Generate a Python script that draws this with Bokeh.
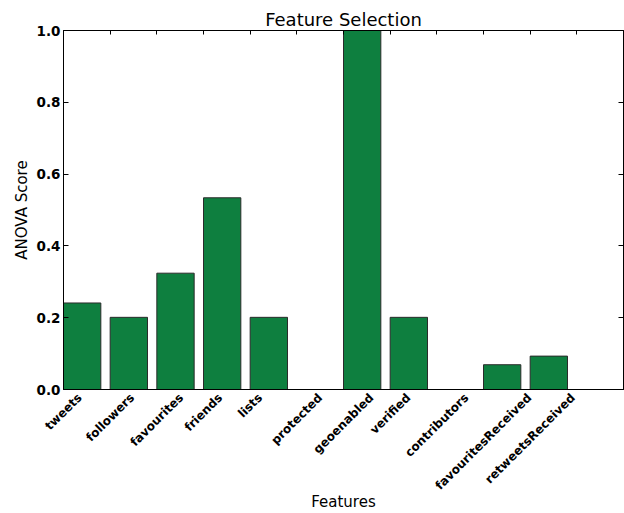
import math
from bokeh.plotting import figure
from bokeh.models import Range1d, FixedTicker, LinearAxis, ColumnDataSource, NumeralTickFormatter
from bokeh.embed import file_html
from bokeh.resources import INLINE

features = ["tweets", "followers", "favourites", "friends", "lists", "protected",
            "geoenabled", "verified", "contributors", "favouritesReceived", "retweetsReceived"]
scores = [0.241, 0.201, 0.324, 0.534, 0.201, 0.0, 1.0, 0.201, 0.0, 0.069, 0.093]
y_ticks = [0.0, 0.2, 0.4, 0.6, 0.8, 1.0]

# ---- layout constants ----
W, H = 624, 513
LEFT, RIGHT, TOP, BOTTOM = 63, 1, 30, 123
BAR_W = 0.8
FONT = "DejaVu Sans"
XLABEL_PX = 12

idx = list(range(len(features)))
x_end = len(features) + 1
src = ColumnDataSource(dict(left=idx, right=[i + BAR_W for i in idx], top=scores,
                            bottom=[0.0] * len(idx)))

# Approximate advance widths (em) of DejaVu Sans Bold, used to place the rotated
# labels centred on their tick like the reference (Bokeh right-aligns rotated labels).
BOLD_EM = {"a": .675, "b": .716, "c": .593, "d": .716, "e": .678, "f": .435, "g": .716,
           "i": .343, "l": .343, "n": .712, "o": .687, "p": .716, "r": .493, "s": .595,
           "t": .478, "u": .712, "v": .652, "w": .924, "R": .770}
px_per_unit = (W - LEFT - RIGHT) / x_end

def label_anchor(i, name):
    width = sum(BOLD_EM.get(ch, .65) for ch in name) * XLABEL_PX
    return i + math.cos(math.pi / 4) * width / 2 / px_per_unit

label_pos = [label_anchor(i, f) for i, f in zip(idx, features)]

p = figure(width=W, height=H, output_backend="svg", toolbar_location=None,
           x_range=Range1d(0, x_end), y_range=Range1d(0, 1),
           title="Feature Selection", min_border_left=LEFT, min_border_right=RIGHT,
           min_border_top=TOP, min_border_bottom=BOTTOM)

p.quad(left="left", right="right", top="top", bottom="bottom", source=src,
       fill_color="#0E7F3F", line_color="#2b2b2b", line_width=1)

p.xgrid.visible = False
p.ygrid.visible = False
p.outline_line_color = "black"
p.outline_line_width = 1
p.background_fill_color = "white"
p.border_fill_color = "white"

p.title.align = "center"
p.title.text_font = FONT
p.title.text_font_size = "18px"
p.title.text_font_style = "normal"
p.title.text_color = "black"
p.title.standoff = 1

xa = p.xaxis[0]
xa.ticker = FixedTicker(ticks=label_pos)
xa.major_label_overrides = {c: f for c, f in zip(label_pos, features)}
xa.major_label_orientation = math.pi / 4
xa.major_label_text_font = FONT
xa.major_label_text_font_style = "bold"
xa.major_label_text_font_size = f"{XLABEL_PX}px"
xa.major_label_text_color = "black"
xa.major_tick_in = 0
xa.major_tick_out = 0
xa.minor_tick_in = 0
xa.minor_tick_out = 0
xa.major_label_standoff = 6
xa.axis_line_color = "black"
xa.axis_label = "Features"
xa.axis_label_text_font = FONT
xa.axis_label_text_font_style = "normal"
xa.axis_label_text_font_size = "15px"
xa.axis_label_text_color = "black"
xa.axis_label_standoff = -8

ya = p.yaxis[0]
ya.ticker = FixedTicker(ticks=y_ticks)
ya.formatter = NumeralTickFormatter(format="0.0")
ya.major_label_text_font = FONT
ya.major_label_text_font_style = "bold"
ya.major_label_text_font_size = "13.5px"
ya.major_label_text_color = "black"
ya.major_tick_in = 5
ya.major_tick_out = 0
ya.minor_tick_in = 0
ya.minor_tick_out = 0
ya.major_label_standoff = 3
ya.axis_label = "ANOVA Score"
ya.axis_label_text_font = FONT
ya.axis_label_text_font_style = "normal"
ya.axis_label_text_font_size = "15px"
ya.axis_label_text_color = "black"
ya.axis_label_standoff = 3
ya.axis_line_color = "black"

top_ticks = list(range(1, x_end))
top_axis = LinearAxis(ticker=FixedTicker(ticks=top_ticks),
                      major_label_overrides={t: "" for t in top_ticks},
                      major_tick_in=4, major_tick_out=0,
                      minor_tick_in=0, minor_tick_out=0, major_label_standoff=0,
                      axis_line_color="black")
p.add_layout(top_axis, "above")

right_axis = LinearAxis(ticker=FixedTicker(ticks=y_ticks),
                        major_label_overrides={t: "" for t in y_ticks},
                        major_tick_in=5, major_tick_out=0,
                        minor_tick_in=0, minor_tick_out=0, major_label_standoff=0,
                        axis_line_color="black")
p.add_layout(right_axis, "right")

open("out.html", "w").write(file_html(p, INLINE))
